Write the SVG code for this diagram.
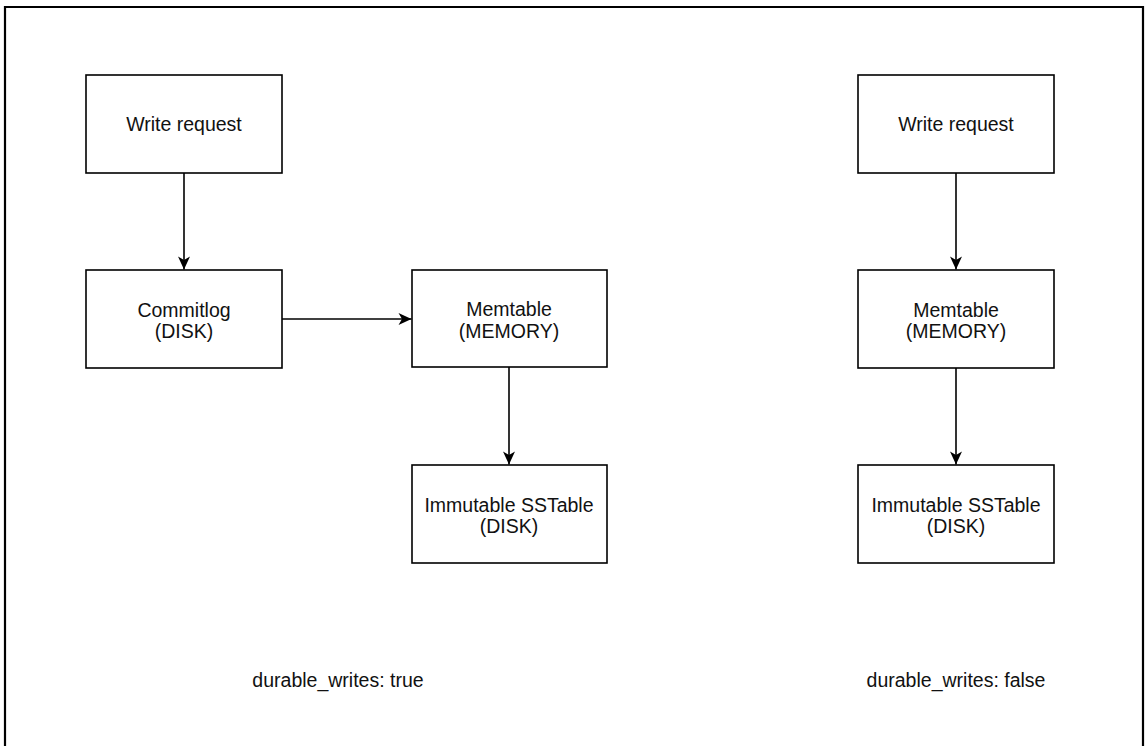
<svg xmlns="http://www.w3.org/2000/svg" width="1146" height="746" viewBox="0 0 1146 746">
<style>
.box{fill:#fff;stroke:#000;stroke-width:1.6}
.lbl{font-family:"Liberation Sans",Arial,sans-serif;font-size:19.5px;fill:#111;text-anchor:middle}
.edge{stroke:#000;stroke-width:1.6;fill:none;marker-end:url(#arr)}
</style>
<defs>
<marker id="arr" viewBox="-14 -7 15 14" refX="0" refY="0" markerWidth="15" markerHeight="14" markerUnits="userSpaceOnUse" orient="auto">
<path d="M0,0 L-13,-6 L-9.5,0 L-13,6 Z" fill="#000"/>
</marker>
</defs>
<rect width="1146" height="746" fill="#fff"/>
<path id="frame" d="M5,746 V7 H1143 V746" fill="none" stroke="#000" stroke-width="2.2"/>
<g id="connectors">
<path class="edge" d="M184,173 V269.5"/>
<path class="edge" d="M282,319 H411.5"/>
<path class="edge" d="M509,367 V464.5"/>
<path class="edge" d="M956,173 V269.5"/>
<path class="edge" d="M956,368 V464.5"/>
</g>
<g id="write1"><rect class="box" x="86" y="75" width="196" height="98"/><text class="lbl" x="184" y="131">Write request</text></g>
<g id="commitlog"><rect class="box" x="86" y="270" width="196" height="98"/><text class="lbl" x="184" y="317">Commitlog</text><text class="lbl" x="184" y="338">(DISK)</text></g>
<g id="memtable1"><rect class="box" x="412" y="270" width="195" height="97"/><text class="lbl" x="509" y="316">Memtable</text><text class="lbl" x="509" y="338">(MEMORY)</text></g>
<g id="sstable1"><rect class="box" x="412" y="465" width="195" height="98"/><text class="lbl" x="509" y="512">Immutable SSTable</text><text class="lbl" x="509" y="533">(DISK)</text></g>
<g id="write2"><rect class="box" x="858" y="75" width="196" height="98"/><text class="lbl" x="956" y="131">Write request</text></g>
<g id="memtable2"><rect class="box" x="858" y="270" width="196" height="98"/><text class="lbl" x="956" y="317">Memtable</text><text class="lbl" x="956" y="338">(MEMORY)</text></g>
<g id="sstable2"><rect class="box" x="858" y="465" width="196" height="98"/><text class="lbl" x="956" y="512">Immutable SSTable</text><text class="lbl" x="956" y="533">(DISK)</text></g>
<g id="caption1"><text class="lbl" x="338" y="687">durable_writes: true</text></g>
<g id="caption2"><text class="lbl" x="956" y="687">durable_writes: false</text></g>
</svg>
